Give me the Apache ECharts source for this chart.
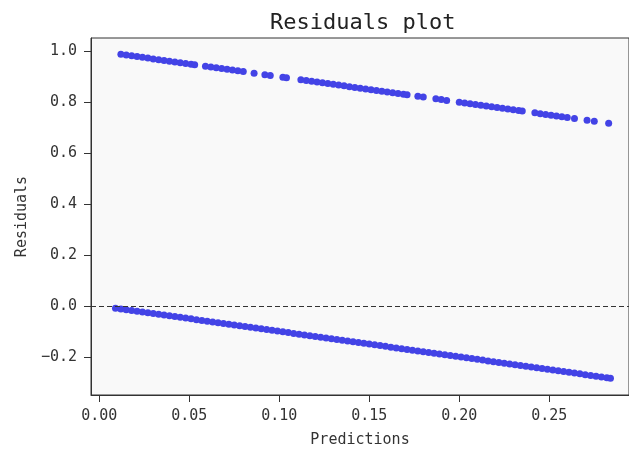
<style>body { margin: 0; }</style>
<script src="https://cdn.jsdelivr.net/npm/echarts@6.0.0/dist/echarts.min.js"></script>

<div id="chart" style="width: 629px; height: 450px;"></div>

<script>
  // upper band (actual = 1)
  const predsHigh = [
    0.012, 0.015, 0.018, 0.021, 0.024, 0.027, 0.030, 0.033, 0.036, 0.039, 0.042, 0.045, 0.048, 0.051, 0.053,
    0.059, 0.062, 0.065, 0.068, 0.071, 0.074, 0.077, 0.080,
    0.086,
    0.092, 0.095,
    0.102, 0.104,
    0.112, 0.115, 0.118, 0.121, 0.124, 0.127, 0.130, 0.133, 0.136, 0.139, 0.142, 0.145, 0.148, 0.151, 0.154, 0.157, 0.160, 0.163, 0.166, 0.169, 0.171,
    0.177, 0.180,
    0.187, 0.190, 0.193,
    0.200, 0.203, 0.206, 0.209, 0.212, 0.215, 0.218, 0.221, 0.224, 0.227, 0.230, 0.233, 0.235,
    0.242, 0.245, 0.248, 0.251, 0.254, 0.257, 0.260, 0.264,
    0.271, 0.275,
    0.283
  ];
  const residHigh = [
    0.988, 0.985, 0.982, 0.979, 0.976, 0.973, 0.970, 0.967, 0.964, 0.961, 0.958, 0.955, 0.952, 0.949, 0.947,
    0.941, 0.938, 0.935, 0.932, 0.929, 0.926, 0.923, 0.920,
    0.914,
    0.908, 0.905,
    0.898, 0.896,
    0.888, 0.885, 0.882, 0.879, 0.876, 0.873, 0.870, 0.867, 0.864, 0.861, 0.858, 0.855, 0.852, 0.849, 0.846, 0.843, 0.840, 0.837, 0.834, 0.831, 0.829,
    0.823, 0.820,
    0.813, 0.810, 0.807,
    0.800, 0.797, 0.794, 0.791, 0.788, 0.785, 0.782, 0.779, 0.776, 0.773, 0.770, 0.767, 0.765,
    0.758, 0.755, 0.752, 0.749, 0.746, 0.743, 0.740, 0.736,
    0.729, 0.725,
    0.717
  ];

  // lower band (actual = 0)
  const predsLow = [
    0.009, 0.012, 0.015, 0.018, 0.021, 0.024, 0.027, 0.030, 0.033, 0.036,
    0.039, 0.042, 0.045, 0.048, 0.051, 0.054, 0.057, 0.060, 0.063, 0.066,
    0.069, 0.072, 0.075, 0.078, 0.081, 0.084, 0.087, 0.090, 0.093, 0.096,
    0.099, 0.102, 0.105, 0.108, 0.111, 0.114, 0.117, 0.120, 0.123, 0.126,
    0.129, 0.132, 0.135, 0.138, 0.141, 0.144, 0.147, 0.150, 0.153, 0.156,
    0.159, 0.162, 0.165, 0.168, 0.171, 0.174, 0.177, 0.180, 0.183, 0.186,
    0.189, 0.192, 0.195, 0.198, 0.201, 0.204, 0.207, 0.210, 0.213, 0.216,
    0.219, 0.222, 0.225, 0.228, 0.231, 0.234, 0.237, 0.240, 0.243, 0.246,
    0.249, 0.252, 0.255, 0.258, 0.261, 0.264, 0.267, 0.270, 0.273, 0.276,
    0.279, 0.282, 0.284
  ];
  const residLow = [
    -0.009, -0.012, -0.015, -0.018, -0.021, -0.024, -0.027, -0.030, -0.033, -0.036,
    -0.039, -0.042, -0.045, -0.048, -0.051, -0.054, -0.057, -0.060, -0.063, -0.066,
    -0.069, -0.072, -0.075, -0.078, -0.081, -0.084, -0.087, -0.090, -0.093, -0.096,
    -0.099, -0.102, -0.105, -0.108, -0.111, -0.114, -0.117, -0.120, -0.123, -0.126,
    -0.129, -0.132, -0.135, -0.138, -0.141, -0.144, -0.147, -0.150, -0.153, -0.156,
    -0.159, -0.162, -0.165, -0.168, -0.171, -0.174, -0.177, -0.180, -0.183, -0.186,
    -0.189, -0.192, -0.195, -0.198, -0.201, -0.204, -0.207, -0.210, -0.213, -0.216,
    -0.219, -0.222, -0.225, -0.228, -0.231, -0.234, -0.237, -0.240, -0.243, -0.246,
    -0.249, -0.252, -0.255, -0.258, -0.261, -0.264, -0.267, -0.270, -0.273, -0.276,
    -0.279, -0.282, -0.284
  ];

  const xTicks = [0, 0.05, 0.10, 0.15, 0.20, 0.25];
  const yTicks = [-0.2, 0, 0.2, 0.4, 0.6, 0.8, 1.0];

  const font = "DejaVu Sans Mono";
  const dotColor = "#4343e6";

  const zip = (xs, ys) => xs.map((x, i) => [x, ys[i]]);
  const fmt = (v, d) => (v < 0 ? "\u2212" : "") + Math.abs(v).toFixed(d);

  const chart = echarts.init(document.getElementById("chart"), null, { renderer: "canvas" });

  chart.setOption({
    animation: false,
    backgroundColor: "#ffffff",
    title: {
      text: "Residuals plot",
      left: 270,
      top: 3,
      padding: 0,
      textStyle: { fontFamily: font, fontSize: 22, fontWeight: "normal", color: "#222" }
    },
    grid: {
      left: 91, right: 0, top: 38, bottom: 55,
      outerBoundsMode: "none",
      containLabel: false,
      show: true,
      backgroundColor: "#f9f9f9",
      borderColor: "#333",
      borderWidth: 1
    },
    xAxis: {
      type: "value",
      min: -0.0046,
      max: 0.2943,
      name: "Predictions",
      nameLocation: "middle",
      nameGap: 32,
      nameMoveOverlap: false,
      nameTextStyle: { fontFamily: font, fontSize: 15, color: "#333" },
      splitLine: { show: false },
      axisLine: { onZero: false, lineStyle: { color: "#333" } },
      axisTick: { length: 7, customValues: xTicks, lineStyle: { color: "#333" } },
      axisLabel: {
        customValues: xTicks,
        margin: 8,
        fontFamily: font, fontSize: 15, color: "#333",
        formatter: (v) => fmt(v, 2)
      }
    },
    yAxis: {
      type: "value",
      min: -0.35,
      max: 1.052,
      name: "Residuals",
      nameLocation: "middle",
      nameRotate: 90,
      nameGap: 55,
      nameMoveOverlap: false,
      nameTextStyle: { fontFamily: font, fontSize: 15, color: "#333" },
      splitLine: { show: false },
      axisLine: { onZero: false, lineStyle: { color: "#333" } },
      axisTick: { length: 7, customValues: yTicks, lineStyle: { color: "#333" } },
      axisLabel: {
        customValues: yTicks,
        margin: 14,
        fontFamily: font, fontSize: 15, color: "#333",
        formatter: (v) => fmt(v, 1)
      }
    },
    series: [
      {
        type: "scatter",
        data: zip(predsHigh, residHigh),
        symbolSize: 7,
        itemStyle: { color: dotColor, opacity: 1 }
      },
      {
        type: "scatter",
        data: zip(predsLow, residLow),
        symbolSize: 7,
        itemStyle: { color: dotColor, opacity: 1 },
        markLine: {
          silent: true,
          symbol: "none",
          label: { show: false },
          lineStyle: { color: "#333", width: 1, type: [5, 3] },
          data: [{ yAxis: 0 }]
        }
      }
    ]
  });
</script>
